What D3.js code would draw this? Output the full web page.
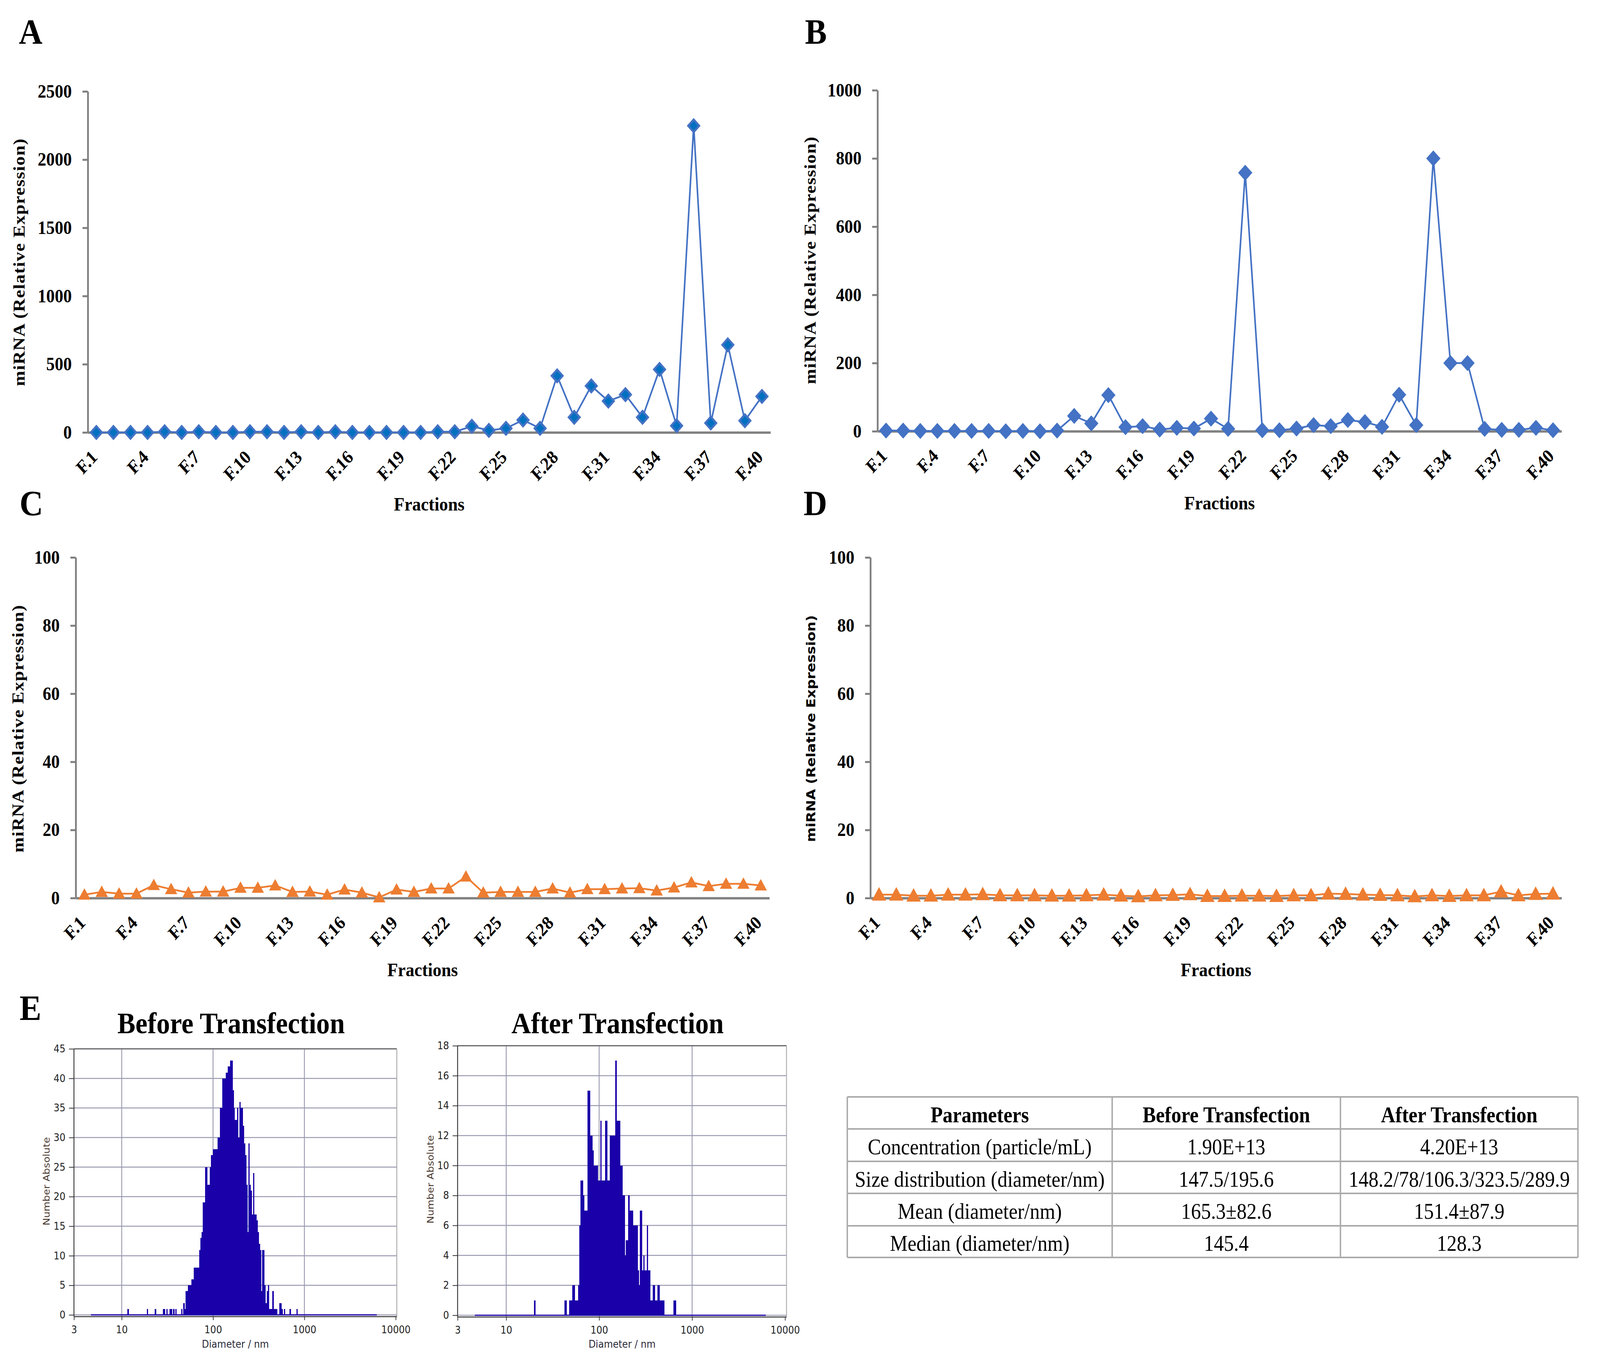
<!DOCTYPE html>
<html><head><meta charset="utf-8">
<script src="https://cdn.jsdelivr.net/npm/d3@7/dist/d3.min.js"></script>
<style>html,body{margin:0;padding:0;background:#fff;overflow:hidden}
#chart{display:block;width:100vw;height:100vh}</style>
</head><body>
<svg id="chart" viewBox="0 0 4500 3502" preserveAspectRatio="none" xmlns="http://www.w3.org/2000/svg"></svg>
<script>
// ---------------- DATA ----------------
const fractions = ["F.1","F.2","F.3","F.4","F.5","F.6","F.7","F.8","F.9","F.10",
  "F.11","F.12","F.13","F.14","F.15","F.16","F.17","F.18","F.19","F.20",
  "F.21","F.22","F.23","F.24","F.25","F.26","F.27","F.28","F.29","F.30",
  "F.31","F.32","F.33","F.34","F.35","F.36","F.37","F.38","F.39","F.40"];
const shownFractionLabels = ["F.1","F.4","F.7","F.10","F.13","F.16","F.19","F.22","F.25","F.28","F.31","F.34","F.37","F.40"];

const valuesA = [0,0,0,0,5,0,5,0,0,5, 5,0,5,0,5,0,0,0,0,0,
  5,5,45,15,30,91,30,415,111,341, 230,277,111,462,49,2248,69,642,86,264];
const valuesB = [2,2,1,1,1,1,1,0,1,0, 2,45,23,106,12,15,5,10,8,37,
  7,758,3,3,8,18,15,33,27,13, 107,18,800,200,200,7,4,4,10,3];
const valuesC = [1.0,1.8,1.3,1.3,3.8,2.6,1.6,1.9,1.9,3.0, 3.0,3.7,1.8,1.9,1.0,2.5,1.6,0.2,2.5,1.8,
  2.8,2.8,6.3,1.6,1.8,1.8,1.8,2.8,1.6,2.6, 2.6,2.8,2.9,2.2,3.1,4.6,3.5,4.2,4.2,3.7];
const valuesD = [1.0,1.0,0.7,0.7,1.0,1.0,1.1,0.8,0.8,0.8, 0.7,0.7,0.8,1.0,0.7,0.5,0.8,0.9,1.1,0.6,
  0.6,0.7,0.7,0.6,0.8,0.8,1.3,1.2,1.0,0.9, 0.8,0.5,0.8,0.6,0.8,0.8,1.9,0.8,1.2,1.3];

const ticksA = [0,500,1000,1500,2000,2500];
const ticksB = [0,200,400,600,800,1000];
const ticksCD = [0,20,40,60,80,100];

const yTitle = "miRNA (Relative Expression)";
const xTitle = "Fractions";

// NTA histograms: counts per log bin (80 bins per decade, first bin starts at 10^1.05 nm)
const binLogStart = 1.05;
const binsPerDecade = 80;
const beforeCounts = [
  0,1,0,0,0,0,0,0,0,0,
  0,0,0,0,0,0,0,0,1,0,
  0,0,0,0,0,1,0,0,0,0,
  0,0,1,1,0,1,0,0,1,1,
  0,1,0,1,0,0,0,0,1,0,
  2,1,4,4,5,5,5,6,6,8,
  8,8,8,8,11,13,14,19,19,25,
  25,22,22,25,27,27,28,28,28,28,
  30,30,35,35,40,40,40,41,41,42,
  42,43,43,38,35,33,33,35,30,36,
  35,35,32,29,27,22,14,29,22,21,
  17,24,17,17,16,14,12,11,4,11,
  11,5,2,4,5,1,1,1,4,1,
  1,1,0,0,2,2,1,0,1,0,
  0,0,0,1,0,0,0,0,0,1];
const afterCounts = [
  0,0,0,0,0,0,0,0,0,0,
  0,0,0,0,0,0,0,0,0,0,
  1,0,0,0,0,0,0,0,0,0,
  0,0,0,0,0,0,0,0,0,0,
  0,0,0,0,0,0,1,1,0,0,
  1,1,1,2,2,1,1,1,2,6,
  9,9,8,7,7,7,15,15,12,12,
  11,10,10,10,10,9,9,13,9,9,
  9,13,13,9,9,12,12,12,12,12,
  17,13,13,13,10,10,8,8,4,5,
  5,8,7,7,7,6,6,6,6,3,
  2,7,7,3,4,3,3,6,3,3,
  1,1,2,2,1,1,2,2,1,1,
  1,1,0,0,0,0,0,0,0,0,
  1,1];
const histBaselineNm = [4.6, 6200];
const histXTicks = [3,10,100,1000,10000];
const histGridX = [10,100,1000];
const histYTicksBefore = [0,5,10,15,20,25,30,35,40,45];
const histYTicksAfter = [0,2,4,6,8,10,12,14,16,18];

const tableColumns = ["Parameters","Before Transfection","After Transfection"];
const tableParameters = ["Concentration (particle/mL)","Size distribution (diameter/nm)","Mean (diameter/nm)","Median (diameter/nm)"];
const tableBefore = ["1.90E+13","147.5/195.6","165.3\u00b182.6","145.4"];
const tableAfter = ["4.20E+13","148.2/78/106.3/323.5/289.9","151.4\u00b187.9","128.3"];

// ---------------- DRAW ----------------
const SERIF = "'Liberation Serif','Times New Roman',Times,serif";
const SANS = "'DejaVu Sans',Verdana,sans-serif";
const svg = d3.select("#chart");
svg.append("rect").attr("width",4500).attr("height",3502).attr("fill","#fff");

function panelLetter(t, x, y) {
  svg.append("text").attr("x",x).attr("y",y).text(t)
    .attr("font-family",SERIF).attr("font-weight","bold").attr("font-size",92).attr("fill","#000");
}

function linePanel(cfg) {
  const x = d3.scalePoint().domain(fractions).range([cfg.x0, cfg.x1]).padding(0.5);
  const y = d3.scaleLinear().domain([0, cfg.max]).range([cfg.y0, cfg.y1]);
  const g = svg.append("g");

  const gy = g.append("g").attr("transform",`translate(${cfg.x0},0)`)
    .call(d3.axisLeft(y).tickValues(cfg.ticks).tickFormat(d3.format("d"))
      .tickSize(15).tickPadding(30).tickSizeOuter(0));
  gy.select(".domain").attr("stroke","#808080").attr("stroke-width",5);
  gy.selectAll(".tick line").attr("stroke","#808080").attr("stroke-width",5);
  gy.selectAll(".tick text").attr("font-family",SERIF).attr("font-weight","bold")
    .attr("font-size",48).attr("fill","#000");

  const gx = g.append("g").attr("transform",`translate(0,${cfg.y0})`)
    .call(d3.axisBottom(x).tickSize(0).tickSizeOuter(0)
      .tickFormat(d => shownFractionLabels.includes(d) ? d : ""));
  gx.select(".domain").attr("stroke","#808080").attr("stroke-width",6);
  gx.selectAll(".tick text")
    .attr("font-family",SERIF).attr("font-weight","bold").attr("font-size",48).attr("fill","#000")
    .attr("text-anchor","end").attr("x",0).attr("y",0).attr("dy",0)
    .attr("transform","translate(5,66) rotate(-45)");

  const pts = fractions.map((f,i) => [x(f), y(cfg.values[i])]);
  g.append("path").attr("d", d3.line()(pts)).attr("fill","none")
    .attr("stroke", cfg.lineColor).attr("stroke-width", 4.5).attr("stroke-linejoin","round");

  const mk = g.append("g");
  pts.forEach(p => {
    const t = `translate(${p[0]},${p[1]})`;
    if (cfg.marker === "diamondDark") {
      mk.append("path").attr("d","M0,-16L15.5,0L0,16L-15.5,0Z").attr("transform",t)
        .attr("fill","#0070C0").attr("stroke","#4472C4").attr("stroke-width",5.5);
    } else if (cfg.marker === "diamond") {
      mk.append("path").attr("d","M0,-20L19.5,0L0,20L-19.5,0Z").attr("transform",t)
        .attr("fill","#4472C4").attr("stroke","#4472C4").attr("stroke-width",1);
    } else {
      const s = cfg.markerSize;
      mk.append("path").attr("d",`M0,${-s}L${s+1},${s*0.8}L${-(s+1)},${s*0.8}Z`).attr("transform",t)
        .attr("fill","#ED7D31").attr("stroke","#ED7D31").attr("stroke-width",1.5);
    }
  });

  svg.append("text").text(yTitle)
    .attr("transform",`translate(${cfg.tx},${cfg.ty}) rotate(-90)`)
    .attr("text-anchor","middle")
    .attr("font-family", cfg.sansTitle ? SANS : SERIF).attr("font-weight","bold")
    .attr("font-size", cfg.sansTitle ? 36 : 47)
    .attr("letter-spacing", cfg.sansTitle ? 0 : 1.6)
    .attr("fill","#000");
  svg.append("text").text(xTitle)
    .attr("x",(cfg.x0+cfg.x1)/2).attr("y",cfg.y0+200).attr("text-anchor","middle")
    .attr("font-family",SERIF).attr("font-weight","bold").attr("font-size",49).attr("fill","#000");
}

linePanel({values:valuesA, max:2500, ticks:ticksA, x0:247, x1:2167, y0:1107, y1:234,
  marker:"diamondDark", lineColor:"#4472C4", tx:69, ty:671});
linePanel({values:valuesB, max:1000, ticks:ticksB, x0:2468, x1:4392, y0:1104, y1:231,
  marker:"diamond", lineColor:"#4472C4", tx:2294, ty:666});
linePanel({values:valuesC, max:100, ticks:ticksCD, x0:213, x1:2164, y0:2299, y1:1427,
  marker:"triangle", markerSize:15, lineColor:"#ED7D31", tx:66, ty:1865});
linePanel({values:valuesD, max:100, ticks:ticksCD, x0:2448, x1:4392, y0:2299, y1:1427,
  marker:"triangle", markerSize:18, lineColor:"#ED7D31", tx:2293, ty:1865, sansTitle:true});

panelLetter("A",53,112);
panelLetter("B",2264,112);
panelLetter("C",55,1319);
panelLetter("D",2260,1319);
panelLetter("E",55,2611);

// ---------------- HISTOGRAMS ----------------
function histogram(cfg) {
  const x = d3.scaleLog().domain([3,10000]).range([cfg.left, cfg.right]);
  const y = d3.scaleLinear().domain([0, cfg.max]).range([cfg.zeroY, cfg.top]);
  const axisY = cfg.zeroY + 4.5;
  const g = svg.append("g");
  const grid = "#9a9ab2";
  cfg.yticks.forEach(t => {
    g.append("line").attr("x1",cfg.left).attr("x2",cfg.frameRight).attr("y1",y(t)).attr("y2",y(t))
      .attr("stroke",grid).attr("stroke-width",2.5);
  });
  histGridX.forEach(t => {
    g.append("line").attr("x1",x(t)).attr("x2",x(t)).attr("y1",cfg.top).attr("y2",axisY)
      .attr("stroke",grid).attr("stroke-width",2.5);
  });
  const bars = g.append("g").attr("shape-rendering","crispEdges");
  cfg.counts.forEach((c,j) => {
    if (!c) return;
    const a = x(Math.pow(10, binLogStart + j/binsPerDecade));
    const b = x(Math.pow(10, binLogStart + (j+1)/binsPerDecade));
    bars.append("rect").attr("x",a).attr("width",Math.max(1,b-a+0.6))
      .attr("y",y(c)).attr("height",y(0)-y(c)).attr("fill","#1a00a8");
  });
  g.append("line").attr("x1",x(histBaselineNm[0])).attr("x2",x(histBaselineNm[1]))
    .attr("y1",y(0)).attr("y2",y(0)).attr("stroke","#1a00a8").attr("stroke-width",3);
  g.append("line").attr("x1",cfg.left).attr("x2",cfg.frameRight).attr("y1",cfg.top).attr("y2",cfg.top)
    .attr("stroke","#555").attr("stroke-width",2.5);
  g.append("line").attr("x1",cfg.frameRight).attr("x2",cfg.frameRight).attr("y1",cfg.top).attr("y2",axisY)
    .attr("stroke","#aaa").attr("stroke-width",2.5);
  const gy = g.append("g").attr("transform",`translate(${cfg.left},0)`)
    .call(d3.axisLeft(y).tickValues(cfg.yticks).tickSize(14).tickPadding(10).tickSizeOuter(0));
  gy.select(".domain").attr("stroke","#333").attr("stroke-width",2.5)
    .attr("d",`M0,${cfg.top}V${axisY}`);
  gy.selectAll(".tick line").attr("stroke","#333").attr("stroke-width",2);
  gy.selectAll(".tick text").attr("font-family",SANS).attr("font-size",26).attr("fill","#222");
  const gx = g.append("g").attr("transform",`translate(0,${axisY})`)
    .call(d3.axisBottom(x).tickValues(histXTicks).tickFormat(d3.format("d")).tickSize(9).tickPadding(15).tickSizeOuter(0));
  gx.select(".domain").attr("stroke","#333").attr("stroke-width",2.5)
    .attr("d",`M${cfg.left},0H${cfg.frameRight}`);
  gx.selectAll(".tick line").attr("stroke","#333").attr("stroke-width",2);
  gx.selectAll(".tick text").attr("font-family",SANS).attr("font-size",26).attr("fill","#222");
  svg.append("text").text("Diameter / nm").attr("x",(cfg.left+cfg.frameRight)/2).attr("y",3450)
    .attr("text-anchor","middle").attr("font-family",SANS).attr("font-size",26).attr("fill","#2a2a3a");
  svg.append("text").text("Number Absolute")
    .attr("transform",`translate(${cfg.ylabX},${cfg.ylabY}) rotate(-90)`)
    .attr("text-anchor","middle").attr("font-family",SANS).attr("font-size",26).attr("fill","#4a3a30");
  svg.append("text").text(cfg.title).attr("x",cfg.titleX).attr("y",2645).attr("text-anchor","middle")
    .attr("font-family",SERIF).attr("font-weight","bold").attr("font-size",76).attr("fill","#000");
}

histogram({counts:beforeCounts, max:45, yticks:histYTicksBefore, left:208, right:1113, frameRight:1116,
  top:2685, zeroY:3366, ylabX:139, ylabY:3024, title:"Before Transfection", titleX:650});
histogram({counts:afterCounts, max:18, yticks:histYTicksAfter, left:1287, right:2208, frameRight:2212,
  top:2677, zeroY:3367, ylabX:1220, ylabY:3019, title:"After Transfection", titleX:1737});

// ---------------- TABLE ----------------
const colEdges = [2383, 3128, 3770, 4438];
const rowEdges = [2808, 2890, 2973, 3055, 3138, 3219];
const tg = svg.append("g");
const rows = [tableColumns].concat(tableParameters.map((p,i) => [p, tableBefore[i], tableAfter[i]]));
rows.forEach((r,ri) => {
  r.forEach((cell,ci) => {
    tg.append("text").text(cell)
      .attr("x",(colEdges[ci]+colEdges[ci+1])/2)
      .attr("y",(rowEdges[ri]+rowEdges[ri+1])/2 + 24)
      .attr("text-anchor","middle").attr("font-family",SERIF)
      .attr("font-weight", ri===0 ? "bold" : "normal")
      .attr("font-size",56).attr("fill","#000");
  });
});
rowEdges.forEach(yv => tg.append("line").attr("x1",colEdges[0]).attr("x2",colEdges[3])
  .attr("y1",yv).attr("y2",yv).attr("stroke","#aaaaaa").attr("stroke-width",4));
colEdges.forEach(xv => tg.append("line").attr("x1",xv).attr("x2",xv)
  .attr("y1",rowEdges[0]).attr("y2",rowEdges[5]).attr("stroke","#aaaaaa").attr("stroke-width",4));
</script>
</body></html>
